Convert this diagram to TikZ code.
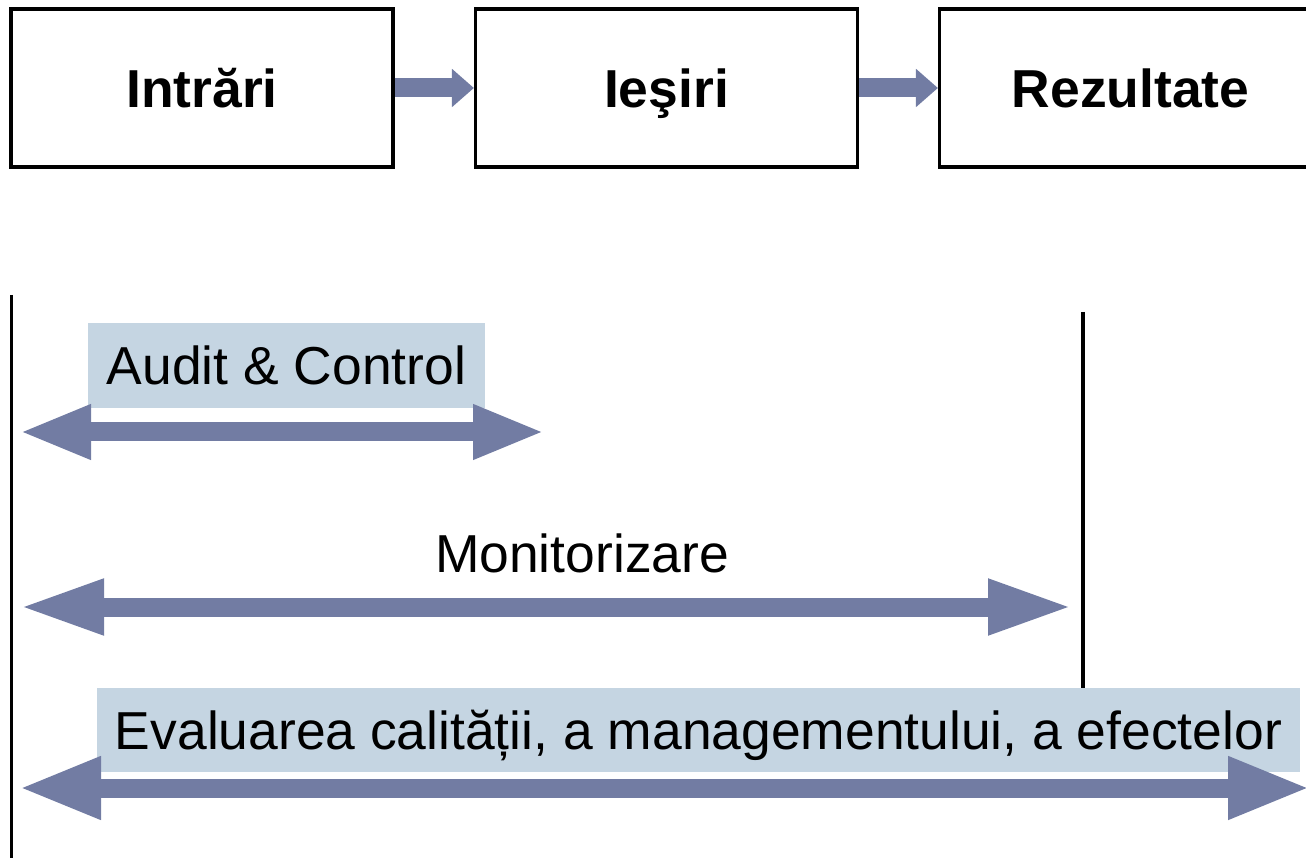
\documentclass[tikz,border=0pt]{standalone}
\usepackage{fontspec}
\setmainfont{Liberation Sans}
\usetikzlibrary{arrows.meta}
\definecolor{arrowblue}{RGB}{114,124,163}
\definecolor{labelblue}{RGB}{197,213,226}
\tikzset{
  stage/.style={draw=black, line width=0.9pt, minimum width=3.82cm, minimum height=1.58cm,
    text height=10.9pt, text depth=0pt, font=\fontsize{15.2}{18}\selectfont\bfseries},
  flow/.style={arrowblue, line width=0.19cm, -{Triangle[length=0.22cm,width=0.37cm]}},
  span/.style 2 args={arrowblue, line width=0.19cm,
    {Triangle[length=#1,width=#2]}-{Triangle[length=#1,width=#2]}},
  tag/.style={inner sep=0pt, text height=10.9pt, text depth=0pt, font=\fontsize{15.2}{18}\selectfont},
  tagbox/.style={tag, fill=labelblue}
}
\begin{document}
\begin{tikzpicture}
\useasboundingbox (0,0) rectangle (13.06,-8.67);
\node[stage] (intrari) at (2.02,-0.88) {Intrări};
\node[stage] (iesiri) at (6.665,-0.88) {Ieşiri};
\node[stage] (rezultate) at (11.305,-0.88) {Rezultate};
\draw[flow] (intrari) -- (iesiri);
\draw[flow] (iesiri) -- (rezultate);
\draw[line width=0.9pt] (0.115,-2.95) -- (0.115,-8.58);
\draw[line width=0.9pt] (10.83,-3.12) -- (10.83,-6.88);
\node[tagbox, minimum width=3.97cm, minimum height=0.85cm] (audit) at (2.865,-3.655) {Audit \& Control};
\node[tag] (monitorizare) at (5.82,-5.53) {Monitorizare};
\node[tagbox, minimum width=12.03cm, minimum height=0.84cm] (evaluare) at (6.985,-7.30)
  {Evaluarea calității, a managementului, a efectelor};
\coordinate (auditL) at (0.19,-4.32);
\coordinate (auditR) at (5.45,-4.32);
\coordinate (monitL) at (0.19,-6.07);
\coordinate (monitR) at (10.73,-6.07);
\coordinate (evalL) at (0.19,-7.88);
\coordinate (evalR) at (13.10,-7.88);
\draw[span={0.72cm}{0.5cm}] (auditL) -- (auditR);
\draw[span={0.85cm}{0.51cm}] (monitL) -- (monitR);
\draw[span={0.82cm}{0.58cm}] (evalL) -- (evalR);
\end{tikzpicture}
\end{document}
